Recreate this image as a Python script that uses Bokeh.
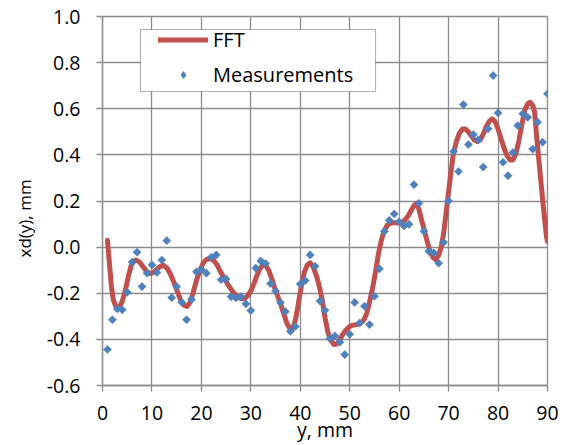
import math

from bokeh.plotting import figure
from bokeh.models import (Legend, LegendItem, Title, BoxAnnotation,
                          ColumnDataSource, FixedTicker, NumeralTickFormatter)
from bokeh.embed import file_html
from bokeh.resources import INLINE

# Measured deviation xd(y) at each position y (mm)
meas_y = list(range(1, 91))
meas_xd = [
    -0.444, -0.315, -0.268, -0.272, -0.196, -0.065, -0.022, -0.171, -0.113, -0.077,
    -0.110, -0.056, 0.028, -0.219, -0.171, -0.239, -0.315, -0.227, -0.107, -0.097,
    -0.113, -0.044, -0.034, -0.141, -0.138, -0.215, -0.220, -0.215, -0.246, -0.275,
    -0.091, -0.060, -0.071, -0.158, -0.190, -0.240, -0.280, -0.365, -0.344, -0.160,
    -0.145, -0.034, -0.083, -0.234, -0.274, -0.396, -0.385, -0.412, -0.466, -0.378,
    -0.240, -0.329, -0.256, -0.336, -0.213, -0.094, 0.068, 0.116, 0.144, 0.110,
    0.092, 0.099, 0.271, 0.190, 0.069, -0.018, -0.025, -0.070, 0.021, 0.200,
    0.415, 0.328, 0.618, 0.445, 0.488, 0.465, 0.347, 0.513, 0.744, 0.582,
    0.368, 0.310, 0.410, 0.527, 0.578, 0.563, 0.425, 0.542, 0.455, 0.665,
]

# FFT reconstruction sampled along y (mm)
fft_y = [
    1.0, 1.4, 1.8, 2.2, 2.8, 3.4, 4.0, 4.7, 5.3, 5.8, 6.3, 6.8, 7.5, 8.2, 8.9,
    9.6, 10.3, 11.0, 11.7, 12.4, 13.0, 13.7, 14.4, 15.1, 15.8, 16.5, 17.1, 17.7,
    18.3, 19.0, 19.7, 20.4, 21.1, 21.8, 22.5, 23.2, 23.9, 24.6, 25.3, 26.0, 26.7,
    27.4, 28.1, 28.8, 29.4, 30.0, 30.6, 31.2, 31.8, 32.4, 33.0, 33.6, 34.2, 34.8,
    35.4, 36.0, 36.6, 37.2, 37.8, 38.3, 38.8, 39.3, 39.8, 40.3, 40.8, 41.4, 42.0,
    42.6, 43.2, 43.8, 44.4, 45.0, 45.6, 46.2, 46.8, 47.4, 48.0, 48.6, 49.2, 49.8,
    50.4, 51.0, 51.6, 52.2, 52.8, 53.4, 54.0, 54.6, 55.2, 55.8, 56.4, 57.0, 57.6,
    58.2, 58.8, 59.4, 60.0, 60.6, 61.2, 61.8, 62.4, 63.0, 63.5, 64.0, 64.5, 65.0,
    65.6, 66.2, 66.8, 67.4, 68.0, 68.5, 69.0, 69.5, 70.0, 70.5, 71.0, 71.6, 72.2,
    72.8, 73.4, 74.0, 74.6, 75.2, 75.8, 76.4, 77.0, 77.6, 78.2, 78.8, 79.4, 80.0,
    80.6, 81.2, 81.8, 82.4, 83.0, 83.6, 84.2, 84.8, 85.4, 86.0, 86.5, 87.0, 87.4,
    87.8, 88.2, 88.6, 89.0, 89.4, 89.8, 90.0,
]
fft_xd = [
    0.030, -0.070, -0.170, -0.230, -0.262, -0.260, -0.235, -0.180, -0.120, -0.080,
    -0.062, -0.056, -0.065, -0.085, -0.105, -0.115, -0.110, -0.096, -0.083, -0.080,
    -0.090, -0.115, -0.150, -0.190, -0.230, -0.252, -0.257, -0.240, -0.200, -0.145,
    -0.100, -0.068, -0.052, -0.050, -0.058, -0.078, -0.108, -0.135, -0.160, -0.183,
    -0.203, -0.217, -0.224, -0.222, -0.210, -0.190, -0.160, -0.125, -0.095, -0.078,
    -0.080, -0.100, -0.135, -0.175, -0.210, -0.245, -0.285, -0.325, -0.350, -0.355,
    -0.335, -0.285, -0.220, -0.160, -0.110, -0.078, -0.068, -0.085, -0.120, -0.165,
    -0.225, -0.305, -0.370, -0.405, -0.422, -0.420, -0.400, -0.378, -0.360, -0.347,
    -0.340, -0.337, -0.335, -0.330, -0.318, -0.290, -0.240, -0.180, -0.110, -0.030,
    0.030, 0.072, 0.095, 0.103, 0.106, 0.106, 0.105, 0.108, 0.118, 0.135,
    0.158, 0.180, 0.190, 0.165, 0.120, 0.080, 0.030, -0.015, -0.043, -0.054,
    -0.035, 0.000, 0.060, 0.150, 0.240, 0.330, 0.410, 0.460, 0.495, 0.512,
    0.512, 0.500, 0.482, 0.465, 0.458, 0.465, 0.490, 0.522, 0.545, 0.556,
    0.545, 0.512, 0.470, 0.430, 0.398, 0.378, 0.378, 0.405, 0.460, 0.530,
    0.594, 0.622, 0.628, 0.615, 0.585, 0.480, 0.390, 0.300, 0.210, 0.125,
    0.045, 0.025,
]

x_ticks = [0, 10, 20, 30, 40, 50, 60, 70, 80, 90]
y_ticks = [-0.6, -0.4, -0.2, 0.0, 0.2, 0.4, 0.6, 0.8, 1.0]

FONT = "Open Sans"
GRID = "#8c8c8c"
RED = "#C0504D"
BLUE = "#4F81BD"

p = figure(width=571, height=445, x_range=(0, 90), y_range=(-0.6, 1.0),
           output_backend="svg", toolbar_location=None,
           min_border_left=102, min_border_right=24,
           min_border_top=16, min_border_bottom=60)
p.background_fill_color = "white"
p.border_fill_color = "white"
p.outline_line_color = GRID
p.outline_line_width = 1.3

for grid, ticks in ((p.xgrid, x_ticks), (p.ygrid, y_ticks)):
    grid.ticker = FixedTicker(ticks=ticks)
    grid.grid_line_color = GRID
    grid.grid_line_width = 1.3

p.xaxis.ticker = FixedTicker(ticks=x_ticks)
p.yaxis.ticker = FixedTicker(ticks=y_ticks)
p.yaxis.formatter = NumeralTickFormatter(format="0.0")
for ax in (p.xaxis, p.yaxis):
    ax.axis_line_color = GRID
    ax.axis_line_width = 1.3
    ax.major_tick_line_color = GRID
    ax.major_tick_line_width = 1.3
    ax.major_tick_in = 0
    ax.major_tick_out = 6
    ax.minor_tick_line_color = None
    ax.major_label_text_font = FONT
    ax.major_label_text_font_size = "19.5px"
    ax.major_label_text_color = "black"
p.xaxis.major_label_standoff = 14
p.yaxis.major_label_standoff = 16

# x-axis title close under the tick labels
p.xaxis.axis_label = "y, mm"
p.xaxis.axis_label_standoff = -7
p.xaxis.axis_label_text_font = FONT
p.xaxis.axis_label_text_font_size = "19.5px"
p.xaxis.axis_label_text_font_style = "normal"
p.xaxis.axis_label_text_color = "black"

# y-axis title, set a little below the vertical centre
p.add_layout(Title(text="xd(y), mm", align="left", offset=128, standoff=16,
                   text_font=FONT, text_font_size="17px",
                   text_font_style="normal", text_color="black"), "left")

meas_src = ColumnDataSource(data=dict(y=meas_y, xd=meas_xd))

# FFT curve under the measurement diamonds
line_r = p.line(fft_y, fft_xd, line_color=RED, line_width=5,
                line_cap="round", line_join="round")
pts_r = p.scatter("y", "xd", source=meas_src, marker="square", angle=math.pi / 4,
                  size=5.8, fill_color=BLUE, line_color=BLUE, line_width=0.5)
# diamond key for the legend entry; kept muted (fully transparent) in the plot
key_r = p.scatter("y", "xd", source=meas_src, marker="diamond", size=6,
                  fill_color=BLUE, line_color=BLUE, line_width=1,
                  muted_alpha=0.0)
key_r.muted = True

# Legend frame and entries
p.add_layout(BoxAnnotation(left=38, right=273, top=356, bottom=294,
                           left_units="screen", right_units="screen",
                           top_units="screen", bottom_units="screen",
                           fill_color="white", fill_alpha=1.0,
                           line_color="black", line_width=1.2, level="annotation"))
legend = Legend(items=[LegendItem(label="FFT", renderers=[line_r]),
                       LegendItem(label="Measurements", renderers=[key_r])],
                location=(53, 294), padding=3, spacing=8,
                glyph_width=50, glyph_height=17, label_height=24,
                label_standoff=5, label_text_font=FONT,
                label_text_font_size="20px", label_text_color="black",
                border_line_alpha=0, background_fill_alpha=0)
p.add_layout(legend)

open("out.html", "w").write(file_html(p, INLINE))
